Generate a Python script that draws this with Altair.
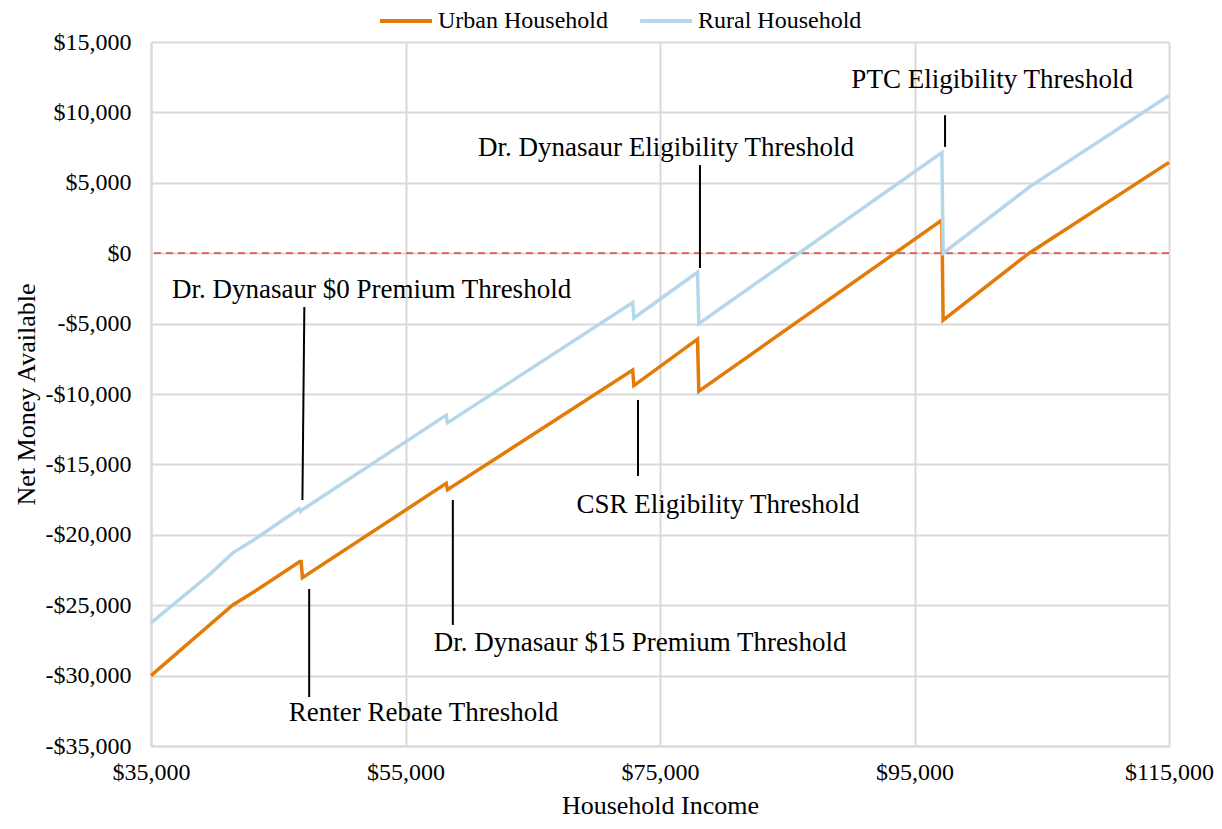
import altair as alt
import pandas as pd

# ---- data ----
urban_income = [35000, 41400, 43100, 46700, 46800, 46900, 58200, 58300, 72850, 72950,
                77950, 78050, 97150, 97250, 104000, 115000]
urban_value = [-30000, -25000, -24050, -21900, -21900, -23050, -16350, -16800, -8300, -9400,
               -6100, -9800, 2350, -4750, 0, 6450]

rural_income = [35000, 39700, 41400, 43100, 46650, 46750, 46850, 58200, 58300, 72850, 72950,
                77950, 78050, 97150, 97250, 104100, 115000]
rural_value = [-26250, -22750, -21300, -20350, -18150, -18350, -18250, -11500, -12050, -3500, -4600,
               -1350, -5000, 7150, 0, 4750, 11200]

series_names = ["Urban Household", "Rural Household"]
series_colors = ["#E37B08", "#B4D8EA"]

x_ticks = [35000, 55000, 75000, 95000, 115000]
y_ticks = [-35000, -30000, -25000, -20000, -15000, -10000, -5000, 0, 5000, 10000, 15000]

ann_labels = ["PTC Eligibility Threshold", "Dr. Dynasaur Eligibility Threshold",
              "Dr. Dynasaur $0 Premium Threshold", "CSR Eligibility Threshold",
              "Dr. Dynasaur $15 Premium Threshold", "Renter Rebate Threshold"]
ann_text_x = [101100, 75470, 52330, 79550, 73430, 56410]
ann_text_y = [12300, 7470, -2610, -17880, -27680, -32650]
ann_line_x = [97400, 78140, 47050, 73270, 58720, 47430]
ann_line_x2 = [97400, 78140, 46900, 73270, 58720, 47430]
ann_line_y = [9800, 6260, -3820, -10420, -17530, -23850]
ann_line_y2 = [7550, -1050, -17530, -15820, -26400, -31520]

FONT = "Liberation Serif"

df = pd.concat([
    pd.DataFrame({"income": urban_income, "value": urban_value, "series": series_names[0]}),
    pd.DataFrame({"income": rural_income, "value": rural_value, "series": series_names[1]}),
], ignore_index=True)

ann = pd.DataFrame({"label": ann_labels, "tx": ann_text_x, "ty": ann_text_y,
                    "lx": ann_line_x, "lx2": ann_line_x2, "ly": ann_line_y, "ly2": ann_line_y2})

x_scale = alt.Scale(domain=[35000, 115000], nice=False)
y_scale = alt.Scale(domain=[-35000, 15000], nice=False)

money_expr = "(datum.value < 0 ? '-' : '') + '$' + format(abs(datum.value), ',')"

lines = alt.Chart(df).mark_line(strokeWidth=3.5, strokeJoin="miter").encode(
    x=alt.X("income:Q", scale=x_scale, title="Household Income",
            axis=alt.Axis(values=x_ticks, labelExpr=money_expr, labelFlush=False,
                          tickSize=0, labelPadding=14, titlePadding=8)),
    y=alt.Y("value:Q", scale=y_scale, title="Net Money Available",
            axis=alt.Axis(values=y_ticks, labelExpr=money_expr, tickSize=0,
                          labelPadding=20, titlePadding=6)),
    color=alt.Color("series:N", scale=alt.Scale(domain=series_names, range=series_colors),
                    sort=series_names,
                    legend=alt.Legend(title=None, orient="none", direction="horizontal",
                                      legendX=227, legendY=-49, symbolType="stroke",
                                      symbolSize=2700, symbolStrokeWidth=4,
                                      labelFontSize=24, labelFont=FONT, labelColor="#000000",
                                      labelLimit=400, columnPadding=24, labelOffset=4)),
)

zero = alt.Chart(pd.DataFrame({"y": [0]})).mark_rule(
    color="#E8554E", strokeWidth=1.8, strokeDash=[7, 5]
).encode(y=alt.Y("y:Q", scale=y_scale))

leaders = alt.Chart(ann).mark_rule(color="#000000", strokeWidth=2).encode(
    x=alt.X("lx:Q", scale=x_scale), x2="lx2:Q",
    y=alt.Y("ly:Q", scale=y_scale), y2="ly2:Q",
)

texts = alt.Chart(ann).mark_text(font=FONT, fontSize=27, color="#000000",
                                 align="center", baseline="middle").encode(
    x=alt.X("tx:Q", scale=x_scale), y=alt.Y("ty:Q", scale=y_scale), text="label:N"
)

chart = alt.layer(zero, lines, leaders, texts).properties(
    width=1018, height=704,
    autosize=alt.AutoSizeParams(type="none"),
    padding={"left": 143, "top": 34, "right": 45, "bottom": 74},
).configure_axis(
    labelFont=FONT, titleFont=FONT, labelFontSize=24, titleFontSize=26,
    labelColor="#000000", titleColor="#000000", titleFontWeight="normal",
    gridColor="#D9D9D9", gridWidth=2, domainColor="#D9D9D9", domainWidth=2,
).configure_view(stroke=None)

chart.save("out.html", embed_options={"renderer": "svg", "actions": False})
